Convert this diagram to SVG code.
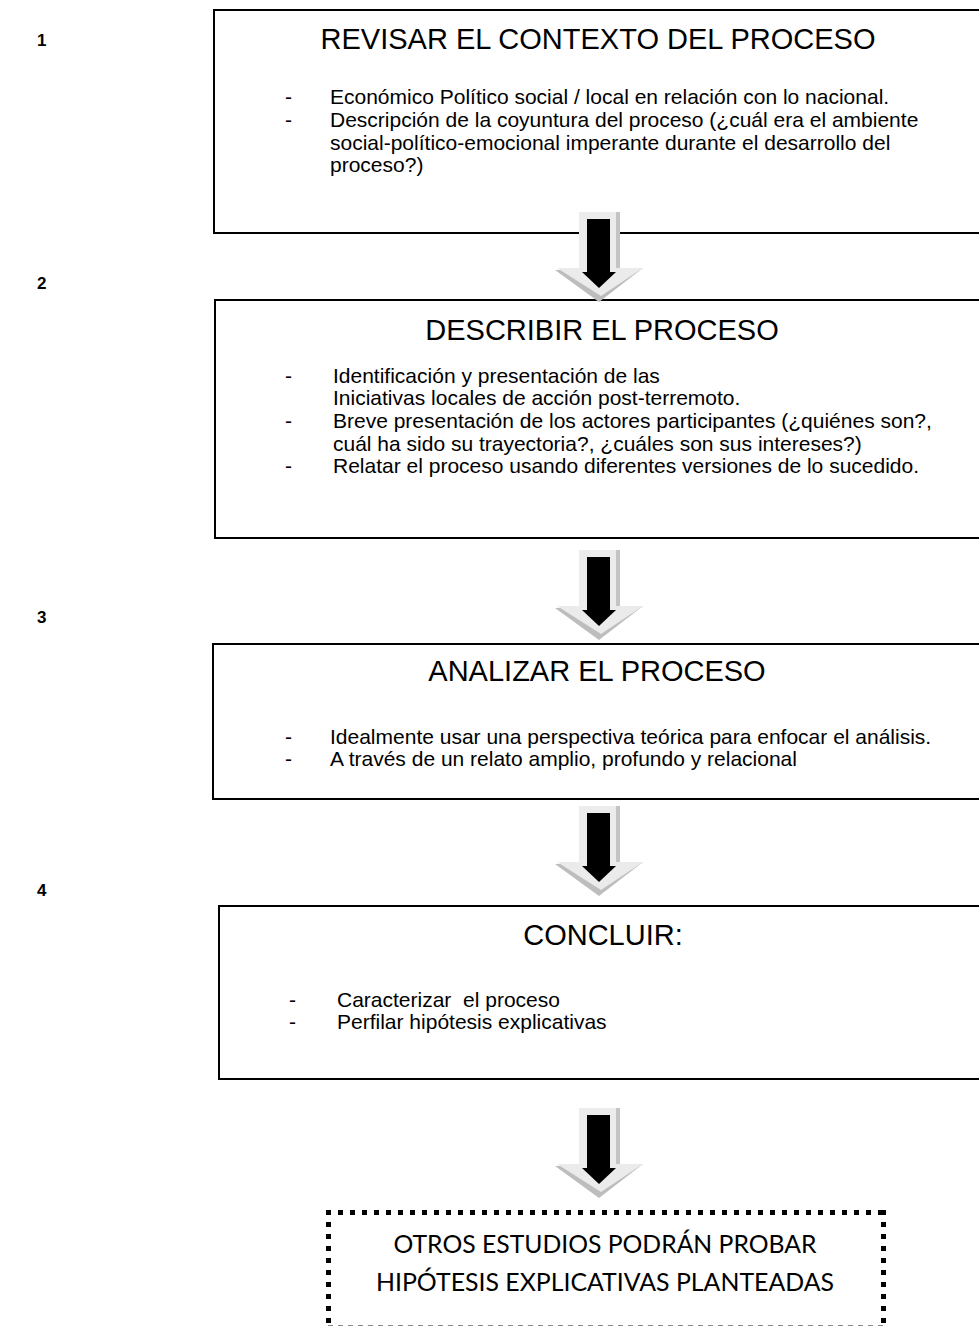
<svg xmlns="http://www.w3.org/2000/svg" width="979" height="1329" viewBox="0 0 979 1329">
<style>
.box{fill:#fff;stroke:#000;stroke-width:2}
.t{font-family:"Liberation Sans",Arial,sans-serif;fill:#000}
.title{font-size:29px;text-anchor:middle}
.body{font-size:21px;white-space:pre}
.num{font-size:17px;font-weight:bold}
.cal{font-family:Lato,"Open Sans",sans-serif;font-size:25px;fill:#000;text-anchor:middle}
</style>
<defs>
<g id="arrow">
<rect x="579" y="0" width="41" height="57" fill="#ececec"/>
<rect x="616" y="0" width="4" height="57" fill="#c4c4c4"/>
<polygon points="555,58 643,56 599,90" fill="#bdbdbd"/>
<polygon points="557,56 643,56 601,84" fill="#ebebeb"/>
<rect x="587" y="7" width="23" height="54" fill="#000"/>
<polygon points="582,60 616,60 599,76" fill="#000"/>
</g>
</defs>
<g id="numbers">
<text class="t num" x="37" y="46">1</text>
<text class="t num" x="37" y="289">2</text>
<text class="t num" x="37" y="623">3</text>
<text class="t num" x="37" y="896">4</text>
</g>
<g id="node1">
<rect class="box" x="214" y="10" width="790" height="223"/>
<text class="t title" x="598" y="49">REVISAR EL CONTEXTO DEL PROCESO</text>
<text class="t body" x="285" y="104">-</text>
<text class="t body" x="330" y="104">Económico Político social / local en relación con lo nacional.</text>
<text class="t body" x="285" y="127">-</text>
<text class="t body" x="330" y="127">Descripción de la coyuntura del proceso (¿cuál era el ambiente</text>
<text class="t body" x="330" y="150">social-político-emocional imperante durante el desarrollo del</text>
<text class="t body" x="330" y="172">proceso?)</text>
</g>
<g id="node2">
<rect class="box" x="215" y="300" width="790" height="238"/>
<text class="t title" x="602" y="340">DESCRIBIR EL PROCESO</text>
<text class="t body" x="285" y="383">-</text>
<text class="t body" x="333" y="383">Identificación y presentación de las</text>
<text class="t body" x="333" y="405">Iniciativas locales de acción post-terremoto.</text>
<text class="t body" x="285" y="428">-</text>
<text class="t body" x="333" y="428">Breve presentación de los actores participantes (¿quiénes son?,</text>
<text class="t body" x="333" y="451">cuál ha sido su trayectoria?, ¿cuáles son sus intereses?)</text>
<text class="t body" x="285" y="473">-</text>
<text class="t body" x="333" y="473">Relatar el proceso usando diferentes versiones de lo sucedido.</text>
</g>
<g id="node3">
<rect class="box" x="213" y="644" width="790" height="155"/>
<text class="t title" x="597" y="681">ANALIZAR EL PROCESO</text>
<text class="t body" x="285" y="744">-</text>
<text class="t body" x="330" y="744">Idealmente usar una perspectiva teórica para enfocar el análisis.</text>
<text class="t body" x="285" y="766">-</text>
<text class="t body" x="330" y="766">A través de un relato amplio, profundo y relacional</text>
</g>
<g id="node4">
<rect class="box" x="219" y="906" width="790" height="173"/>
<text class="t title" x="603" y="945">CONCLUIR:</text>
<text class="t body" x="289" y="1007">-</text>
<text class="t body" x="337" y="1007">Caracterizar  el proceso</text>
<text class="t body" x="289" y="1029">-</text>
<text class="t body" x="337" y="1029">Perfilar hipótesis explicativas</text>
</g>
<g id="node5">
<rect x="328.5" y="1212.5" width="555" height="112" fill="#fff" stroke="none"/>
<line x1="326" y1="1212.5" x2="886" y2="1212.5" stroke="#000" stroke-width="5" stroke-dasharray="5 7"/>
<line x1="328.5" y1="1210" x2="328.5" y2="1324" stroke="#000" stroke-width="5" stroke-dasharray="5 7"/>
<line x1="883.5" y1="1210" x2="883.5" y2="1324" stroke="#000" stroke-width="5" stroke-dasharray="5 7"/>
<line x1="328" y1="1325.5" x2="884" y2="1325.5" stroke="#888" stroke-width="1" stroke-dasharray="5 5"/>
<text class="cal" x="605" y="1253" textLength="423" lengthAdjust="spacingAndGlyphs">OTROS ESTUDIOS PODRÁN PROBAR</text>
<text class="cal" x="605" y="1291" textLength="458" lengthAdjust="spacingAndGlyphs">HIPÓTESIS EXPLICATIVAS PLANTEADAS</text>
</g>
<g id="connectors">
<use href="#arrow" transform="translate(0,212)"/>
<use href="#arrow" transform="translate(0,550)"/>
<use href="#arrow" transform="translate(0,806)"/>
<use href="#arrow" transform="translate(0,1108)"/>
</g>
</svg>
